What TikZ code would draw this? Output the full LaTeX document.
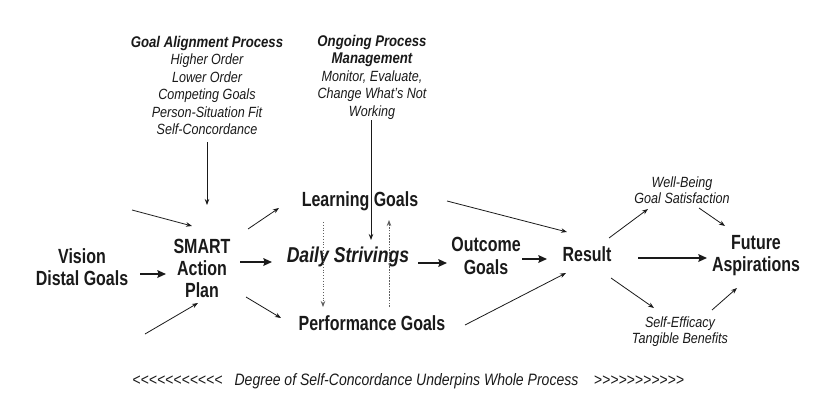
\documentclass[tikz,border=0pt]{standalone}
\usepackage{fontspec}
\setmainfont{Liberation Sans}[FakeStretch=0.85]
\newfontfamily\bigfam{Liberation Sans}[FakeStretch=0.78]
\newfontfamily\dailyfam{Liberation Sans}[FakeStretch=0.82]
\usetikzlibrary{arrows.meta,calc}
\definecolor{ink}{HTML}{1A1A1A}
\newcommand{\hdfont}{\fontsize{15.5}{18}\selectfont\bfseries\itshape}
\tikzset{
  big/.style={font=\bigfam\fontsize{20.5}{22}\selectfont\bfseries, text=ink, align=center, inner sep=0pt},
  bigit/.style={font=\dailyfam\fontsize{21.5}{24}\selectfont\bfseries\itshape, text=ink, align=center, inner sep=0pt},
  small/.style={font=\fontsize{14.8}{17.5}\selectfont\itshape, text=ink, align=center, inner sep=0pt},
  foot/.style={font=\fontsize{16.5}{19}\selectfont\itshape, text=ink, align=center, inner sep=0pt},
  thin/.style={draw=ink, line width=0.8pt, -{Stealth[length=6pt,width=4.5pt]}},
  thick/.style={draw=ink, line width=2.2pt, -{Stealth[length=8.5pt,width=7.5pt,inset=1pt]}},
  dots/.style={draw=ink!70, line width=0.8pt, dotted, -{Stealth[length=6pt,width=4.5pt]}},
  dashdots/.style={draw=ink!70, line width=0.8pt, dash pattern=on 1.6pt off 1.2pt, -{Stealth[length=6pt,width=4.5pt]}},
}
\begin{document}
\begin{tikzpicture}[x=1pt,y=-1pt]
\useasboundingbox (0,0) rectangle (830,404);
\fill[white] (0,0) rectangle (830,404);

% nodes
\node[small] (gap) at (207,85.5) {\hdfont Goal Alignment Process\\ Higher Order\\ Lower Order\\ Competing Goals\\ Person-Situation Fit\\ Self-Concordance};
\node[small] (ong) at (372,77) {\hdfont Ongoing Process\\ \hdfont Management\\ Monitor, Evaluate,\\ Change What's Not\\ Working};
\node[big] (vision) at (82,267.5) {Vision\\ Distal Goals};
\node[big] (smart) at (202,268.5) {SMART\\ Action\\ Plan};
\node[big] (learn) at (360,201) {Learning Goals};
\node[bigit] (daily) at (348,257) {Daily Strivings};
\node[big] (perf) at (372,323) {Performance Goals};
\node[big, font=\bigfam\fontsize{20.5}{23}\selectfont\bfseries] (outcome) at (486,255.5) {Outcome\\ Goals};
\node[big] (result) at (587,254) {Result};
\node[small, font=\fontsize{14.8}{16.5}\selectfont\itshape] (wb) at (682,190) {Well-Being\\ Goal Satisfaction};
\node[small, font=\fontsize{14.8}{16.5}\selectfont\itshape] (se) at (680,331.5) {Self-Efficacy\\ Tangible Benefits};
\node[big] (future) at (756,256) {Future\\ Aspirations};
\node[foot] (chevL) at (177.5,381) {<{}<{}<{}<{}<{}<{}<{}<{}<{}<{}<};
\node[foot] (degree) at (406.5,381) {Degree of Self-Concordance Underpins Whole Process};
\node[foot] (chevR) at (639,381) {>{}>{}>{}>{}>{}>{}>{}>{}>{}>{}>};

\coordinate (in1) at (132,210);
\coordinate (in2) at (145,334);

% connectors
\draw[thin] ($(gap)+(0,56.5)$) -- ($(smart)+(5,-63.5)$);
\draw[thin] ($(ong)+(-1,43)$) -- ($(daily)+(23,-17)$);
\draw[thin] (in1) -- ($(smart)+(-10,-42.5)$);
\draw[thin] (in2) -- ($(smart)+(-4,34.5)$);
\draw[thick] ($(vision)+(58,6.5)$) -- ($(smart)+(-36,5.5)$);
\draw[thick] ($(smart)+(38,-6.5)$) -- ($(daily)+(-76,5)$);
\draw[thin] ($(smart)+(46,-39.5)$) -- ($(learn)+(-81,7)$);
\draw[thin] ($(smart)+(44,28.5)$) -- ($(perf)+(-91,-5)$);
\draw[dots] ($(learn)+(-37,21)$) -- ($(perf)+(-49,-16)$);
\draw[dashdots] ($(perf)+(17,-16)$) -- ($(learn)+(29,19)$);
\draw[thick] ($(daily)+(70,6)$) -- ($(outcome)+(-39,7.5)$);
\draw[thick] ($(outcome)+(36,3.5)$) -- ($(result)+(-40,5)$);
\draw[thin] ($(learn)+(87,0)$) -- ($(result)+(-20,-22)$);
\draw[thin] ($(perf)+(93,2)$) -- ($(result)+(-21,19)$);
\draw[thin] ($(result)+(22,-16)$) -- ($(wb)+(-34,19)$);
\draw[thin] ($(wb)+(17,18)$) -- ($(future)+(-31,-30)$);
\draw[thick] ($(result)+(51,4)$) -- ($(future)+(-49,2)$);
\draw[thin] ($(result)+(24,24)$) -- ($(se)+(-26,-23.5)$);
\draw[thin] ($(se)+(32,-21.5)$) -- ($(future)+(-19,32)$);
\end{tikzpicture}
\end{document}
